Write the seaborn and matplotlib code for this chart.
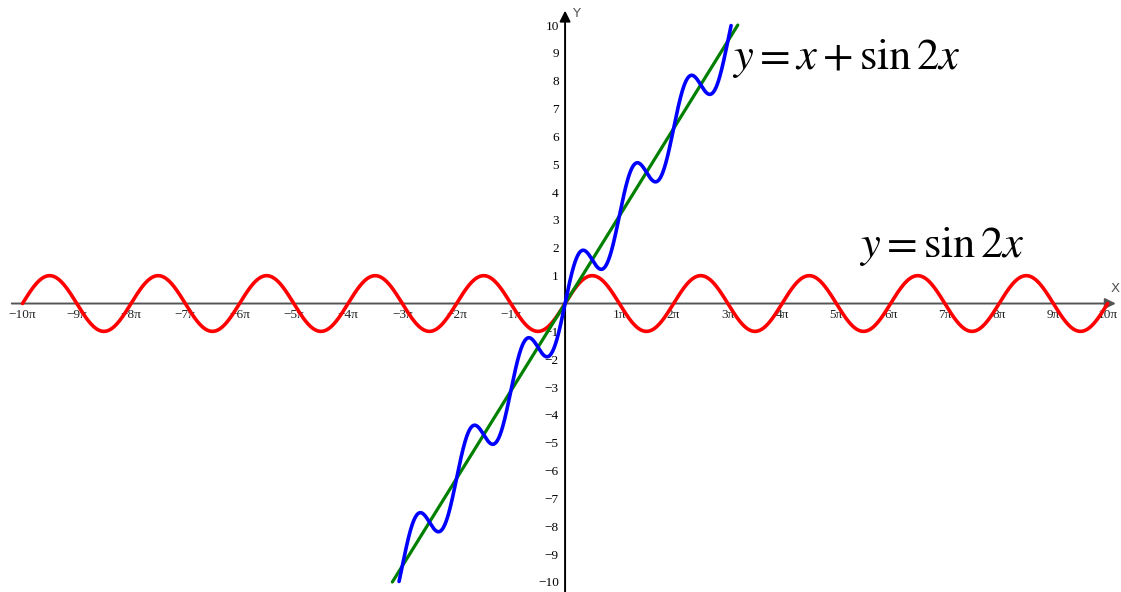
import numpy as np
import pandas as pd
import seaborn as sns
import matplotlib.pyplot as plt

# curves shown in the picture
red_x = np.linspace(-10 * np.pi, 10 * np.pi, 3000)
red_y = np.sin(red_x)                      # drawn wave (label says sin 2x)
green_x = np.linspace(-10, 10, 200)
green_y = green_x
blue_x = np.linspace(-10, 10, 3000)
blue_y = blue_x + np.sin(2 * blue_x)
blue_y = np.where(np.abs(blue_y) <= 10, blue_y, np.nan)

x_ticks = [k for k in range(-10, 11) if k != 0]
x_labels = [f"\u2212{-k}\u03c0" if k < 0 else f"{k}\u03c0" for k in x_ticks]
y_ticks = [k for k in range(-10, 11) if k != 0]
y_labels = [f"\u2212{-k}" if k < 0 else str(k) for k in y_ticks]

sns.set_style("white")
plt.rcParams["mathtext.fontset"] = "stix"

fig = plt.figure(figsize=(11.21, 5.92), dpi=100)
ax = fig.add_axes([0, 0, 1, 1])

df_red = pd.DataFrame({"x": red_x, "y": red_y})
df_green = pd.DataFrame({"x": green_x, "y": green_y})
df_blue = pd.DataFrame({"x": blue_x, "y": blue_y}).dropna()

sns.lineplot(data=df_red, x="x", y="y", ax=ax, color="#ff0000", linewidth=2.6,
             sort=False, estimator=None)
sns.lineplot(data=df_green, x="x", y="y", ax=ax, color="#008000", linewidth=2.3,
             sort=False, estimator=None)
sns.lineplot(data=df_blue, x="x", y="y", ax=ax, color="#0000ff", linewidth=2.6,
             sort=False, estimator=None)

ax.set_xlim(-32.72, 32.19)
ax.set_ylim(-10.36, 10.90)

for side in ["top", "right", "left", "bottom"]:
    ax.spines[side].set_color("none")
ax.spines["left"].set_position(("data", 0))
ax.spines["bottom"].set_position(("data", 0))

# axis lines with arrow heads
ax.annotate("", xy=(32.05, 0), xytext=(-32.2, 0),
            arrowprops=dict(arrowstyle="-|>", color="#555555", lw=1.4,
                            mutation_scale=16), zorder=0)
ax.annotate("", xy=(0, 10.62), xytext=(0, -10.5),
            arrowprops=dict(arrowstyle="-|>", color="black", lw=1.4,
                            mutation_scale=16), zorder=0)
ax.text(31.6, 0.3, "X", fontsize=9.5, color="#555555", ha="left", va="bottom")
ax.text(0.4, 10.4, "Y", fontsize=9.5, color="#555555", ha="left", va="center")

ax.set_xticks(np.array(x_ticks) * np.pi)
ax.set_xticklabels(x_labels, fontfamily="Liberation Serif", fontsize=9.5)
ax.set_yticks(y_ticks)
ax.set_yticklabels(y_labels, fontfamily="Liberation Serif", fontsize=9.5)
ax.tick_params(axis="x", length=0, pad=4, colors="#222222")
ax.tick_params(axis="y", direction="inout", length=7, width=1, pad=1,
               colors="black")
ax.set_xlabel("")
ax.set_ylabel("")

ax.text(9.65, 8.8, r"$y=x+\sin 2x$", fontsize=32, ha="left", va="center",
        color="black")
ax.text(17.0, 2.05, r"$y=\sin 2x$", fontsize=32, ha="left", va="center",
        color="black")

fig.savefig("out.png", dpi=100)
